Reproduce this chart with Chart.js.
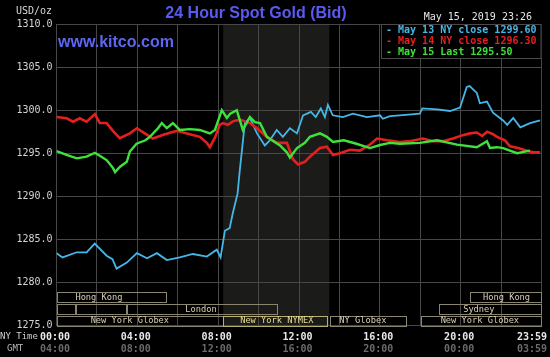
<!DOCTYPE html>
<html>
<head>
<meta charset="utf-8">
<script src="https://cdn.jsdelivr.net/npm/chart.js@4.4.1/dist/chart.umd.min.js"></script>
<style>
  html, body { margin: 0; padding: 0; background: #000; }
  #wrap { width: 550px; height: 357px; position: relative; }
</style>
</head>
<body>
<div id="wrap"><canvas id="c" width="550" height="357"></canvas></div>
<script>
// ---------- data (hours NY time, price USD/oz) ----------
const blueHours  = [0.00,0.30,1.00,1.49,1.89,2.48,2.77,2.97,3.48,3.98,4.48,4.97,5.46,6.10,6.75,7.44,7.93,8.12,8.33,8.57,8.72,8.96,9.07,9.32,9.57,9.92,10.31,10.56,10.90,11.20,11.55,11.90,12.20,12.59,12.83,13.08,13.28,13.43,13.67,14.17,14.67,15.36,16.01,16.15,16.50,16.99,17.98,18.10,18.85,19.47,19.97,20.30,20.44,20.80,20.95,21.30,21.60,22.10,22.30,22.60,22.95,23.43,23.93];
const blueValues = [1283.4,1282.9,1283.5,1283.5,1284.5,1283.1,1282.7,1281.6,1282.3,1283.4,1282.8,1283.4,1282.6,1282.9,1283.3,1283.0,1283.8,1282.9,1286.0,1286.3,1288.0,1290.3,1293.0,1298.5,1299.1,1297.3,1295.9,1296.5,1297.7,1296.9,1297.9,1297.3,1299.4,1299.8,1299.2,1300.2,1299.2,1300.6,1299.4,1299.2,1299.6,1299.2,1299.4,1299.0,1299.3,1299.4,1299.6,1300.2,1300.1,1299.9,1300.3,1302.7,1302.8,1302.0,1300.8,1301.0,1299.7,1298.8,1298.3,1299.1,1298.0,1298.5,1298.8];

const redHours  = [0.00,0.50,0.82,1.15,1.49,1.90,2.14,2.48,2.79,3.13,3.63,3.98,4.37,4.77,5.36,5.96,6.60,7.09,7.44,7.59,7.84,8.08,8.23,8.48,8.73,9.07,9.57,9.97,10.41,10.91,11.40,11.70,11.95,12.29,12.54,13.04,13.38,13.68,14.03,14.52,15.01,15.51,15.86,16.35,16.99,17.49,18.13,18.63,19.12,19.62,20.11,20.46,20.81,21.06,21.31,21.60,21.80,22.19,22.44,22.84,23.28,23.58,23.93];
const redValues = [1299.2,1299.05,1298.65,1299.05,1298.65,1299.55,1298.5,1298.5,1297.6,1296.75,1297.3,1297.9,1297.3,1296.7,1297.2,1297.6,1297.2,1296.9,1296.2,1295.7,1296.8,1298.3,1298.5,1298.3,1298.7,1298.9,1298.5,1297.8,1296.9,1296.2,1296.2,1294.3,1293.7,1294.0,1294.6,1295.6,1295.75,1294.8,1295.0,1295.4,1295.3,1296.0,1296.7,1296.5,1296.3,1296.4,1296.7,1296.4,1296.4,1296.7,1297.1,1297.3,1297.4,1297.0,1297.5,1297.2,1296.9,1296.5,1295.8,1295.6,1295.3,1295.1,1295.1];

const greenHours  = [0.00,0.50,1.00,1.49,1.90,2.22,2.48,2.79,2.90,3.13,3.48,3.63,3.96,4.40,4.62,5.02,5.21,5.46,5.76,6.10,6.60,7.09,7.59,7.84,8.18,8.43,8.60,8.92,9.22,9.57,9.82,10.07,10.41,10.66,11.06,11.40,11.55,11.90,12.29,12.54,13.04,13.38,13.68,14.22,14.84,15.51,16.01,16.50,16.99,17.98,18.83,19.82,20.80,21.30,21.45,21.80,22.10,22.79,23.43];
const greenValues = [1295.25,1294.8,1294.4,1294.6,1295.05,1294.6,1294.2,1293.3,1292.8,1293.4,1294.0,1295.2,1296.1,1296.5,1296.9,1297.9,1298.5,1297.9,1298.5,1297.7,1297.8,1297.7,1297.3,1297.7,1300.0,1299.1,1299.6,1300.0,1297.7,1299.2,1298.6,1298.5,1296.9,1296.5,1295.9,1295.1,1294.5,1295.6,1296.2,1296.9,1297.3,1296.9,1296.3,1296.5,1296.1,1295.6,1295.95,1296.2,1296.1,1296.2,1296.5,1296.0,1295.7,1296.4,1295.6,1295.7,1295.6,1295.0,1295.3];

const legendLabels = ['May 13 NY close 1299.60', 'May 14 NY close 1296.30', 'May 15 Last 1295.50'];

const xTickHours = [0, 4, 8, 12, 16, 20, 24];
const nyTimeLabels = ['00:00', '04:00', '08:00', '12:00', '16:00', '20:00', '23:59'];
const gmtLabels = ['04:00', '08:00', '12:00', '16:00', '20:00', '00:00', '03:59'];

const pitHours = [8.25, 13.5];

const sessionNames   = ['Hong Kong', 'Hong Kong', '', '', 'London', 'Sydney', 'New York Globex', 'New York NYMEX', 'NY Globex', 'New York Globex'];
const sessionRows    = [0, 0, 1, 1, 1, 1, 2, 2, 2, 2];
const sessionStarts  = [0, 20.46, 0, 0.95, 3.48, 18.92, 0, 8.25, 13.51, 18.03];
const sessionEnds    = [5.45, 24, 0.95, 3.48, 10.93, 24, 8.25, 13.43, 17.34, 24];
const sessionLabelAt = [2.1, 22.27, 0, 0, 7.15, 20.9, 3.63, 10.9, 15.16, 20.95];

// ---------- helpers ----------
function pts(h, v) { return h.map((x, i) => ({ x: x, y: v[i] })); }
const MONO = '"DejaVu Sans Mono", "Liberation Mono", monospace';
const SANS = '"Liberation Sans", Arial, sans-serif';
const COL_BLUE = '#45b6e8', COL_RED = '#e4201f', COL_GREEN = '#3ee23a';

const decor = {
  id: 'decor',
  beforeDraw(chart) {
    const { ctx, chartArea: a, scales: { x } } = chart;
    ctx.save();
    ctx.fillStyle = '#000';
    ctx.fillRect(0, 0, chart.width, chart.height);
    ctx.fillStyle = '#1b1b19';
    const x0 = x.getPixelForValue(pitHours[0]), x1 = x.getPixelForValue(pitHours[1]);
    ctx.fillRect(x0, a.top, x1 - x0, a.bottom - a.top);
    ctx.restore();
  },
  afterDraw(chart) {
    const { ctx, chartArea: a, scales: { x, y } } = chart;
    ctx.save();
    // title & site
    ctx.fillStyle = '#5a5af2';
    ctx.font = 'bold 16px ' + SANS;
    ctx.textAlign = 'center';
    ctx.textBaseline = 'middle';
    ctx.fillText('24 Hour Spot Gold (Bid)', 256, 14);
    ctx.textAlign = 'left';
    ctx.fillStyle = '#5c66f2';
    ctx.fillText('www.kitco.com', 58, 43);

    ctx.font = '10px ' + MONO;
    ctx.fillStyle = '#d8d8d8';
    ctx.textAlign = 'right';
    ctx.fillText('USD/oz', 52, 11);
    ctx.fillStyle = '#e6e6e6';
    ctx.fillText('May 15, 2019 23:26', 532, 17);

    // legend box
    const lx = 381, ly = a.top, lw = a.right - 381, lh = 34;
    ctx.fillStyle = '#000';
    ctx.fillRect(lx, ly, lw, lh);
    ctx.strokeStyle = '#4a4a4a';
    ctx.lineWidth = 1;
    ctx.strokeRect(lx + 0.5, ly + 0.5, lw - 1, lh);
    const cols = [COL_BLUE, COL_RED, COL_GREEN];
    ctx.textAlign = 'left';
    ctx.font = 'bold 10px ' + MONO;
    legendLabels.forEach((t, i) => {
      ctx.fillStyle = cols[i];
      ctx.fillText('- ' + t, 386, 30 + i * 11);
    });

    // session bands
    const bottom = y.getPixelForValue(1275);
    ctx.font = '8.7px ' + MONO;
    ctx.textAlign = 'center';
    sessionNames.forEach((name, i) => {
      const top = bottom - 33.5 + sessionRows[i] * 11.8;
      const sx = x.getPixelForValue(sessionStarts[i]);
      const ex = x.getPixelForValue(sessionEnds[i]);
      const ny = name.indexOf('NYMEX') >= 0;
      ctx.strokeStyle = ny ? '#b8b070' : '#8a8570';
      ctx.strokeRect(Math.round(sx) + 0.5, Math.round(top) + 0.5, Math.round(ex - sx) - 1, 10);
      if (name) {
        ctx.fillStyle = ny ? '#e4dc96' : '#d6ceb4';
        ctx.fillText(name, x.getPixelForValue(sessionLabelAt[i]), top + 5.5);
      }
    });

    // bottom time labels
    ctx.textAlign = 'left';
    ctx.font = '9px ' + MONO;
    ctx.fillStyle = '#d0d0d0';
    ctx.fillText('NY Time', 0, 337);
    ctx.fillStyle = '#b8b8b8';
    ctx.fillText('GMT', 7, 349);
    xTickHours.forEach((h, i) => {
      const px = x.getPixelForValue(h);
      const last = i === xTickHours.length - 1;
      ctx.textAlign = last ? 'right' : 'center';
      const tx = last ? 547 : px - 1.5;
      ctx.font = 'bold 10px ' + MONO;
      ctx.fillStyle = '#e8e8e8';
      ctx.fillText(nyTimeLabels[i], tx, 337);
      ctx.fillStyle = '#6a6a6a';
      ctx.fillText(gmtLabels[i], tx, 349);
    });
    ctx.restore();
  }
};

new Chart(document.getElementById('c'), {
  type: 'line',
  data: {
    datasets: [
      { label: legendLabels[2], data: pts(greenHours, greenValues), borderColor: COL_GREEN, borderWidth: 2.4, pointRadius: 0, tension: 0, order: 0 },
      { label: legendLabels[1], data: pts(redHours, redValues), borderColor: COL_RED, borderWidth: 2.6, pointRadius: 0, tension: 0, order: 1 },
      { label: legendLabels[0], data: pts(blueHours, blueValues), borderColor: COL_BLUE, borderWidth: 1.8, pointRadius: 0, tension: 0, order: 2 }
    ]
  },
  options: {
    responsive: false,
    animation: false,
    devicePixelRatio: 1,
    layout: { padding: { top: 24, right: 8.5, left: 0, bottom: 0 } },
    plugins: { legend: { display: false }, tooltip: { enabled: false }, title: { display: false } },
    scales: {
      x: {
        type: 'linear', min: 0, max: 24,
        ticks: { display: false, stepSize: 2 },
        grid: { color: '#474747', lineWidth: 1, drawTicks: false },
        border: { display: false },
        afterFit(s) { s.height = 31.5; }
      },
      y: {
        min: 1275, max: 1310,
        ticks: { stepSize: 5, color: '#d4d4d4', padding: 4, font: { family: MONO, size: 10 },
                 callback: v => Number(v).toFixed(1) },
        grid: { color: '#474747', lineWidth: 1, drawTicks: false },
        border: { display: false },
        afterFit(s) { s.width = 56.5; }
      }
    }
  },
  plugins: [decor]
});
</script>
</body>
</html>
